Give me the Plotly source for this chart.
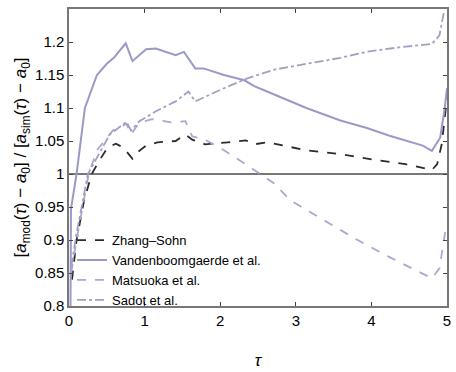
import plotly.graph_objects as go

# Zhang-Sohn
zs_t = [0.04, 0.1, 0.2, 0.3, 0.4, 0.51, 0.62, 0.72, 0.84, 0.93, 1.02, 1.17, 1.41, 1.54, 1.63, 1.8, 2.1, 2.34, 2.45, 2.62, 3.14, 3.59, 4.02, 4.45, 4.8, 4.87, 4.93, 4.98, 5.0]
zs_v = [0.84, 0.9, 0.96, 1.0, 1.02, 1.04, 1.046, 1.04, 1.023, 1.035, 1.043, 1.048, 1.05, 1.06, 1.052, 1.045, 1.048, 1.051, 1.045, 1.048, 1.036, 1.03, 1.022, 1.015, 1.006, 1.015, 1.045, 1.1, 1.115]

# Vandenboomgaerde et al.
vb_t = [0.02, 0.026, 0.1, 0.21, 0.37, 0.5, 0.6, 0.75, 0.84, 1.02, 1.15, 1.41, 1.52, 1.67, 1.78, 2.05, 2.32, 2.45, 2.62, 2.93, 3.14, 3.59, 3.93, 4.24, 4.68, 4.8, 4.91, 4.97, 5.0]
vb_v = [0.8, 0.947, 1.0, 1.1, 1.15, 1.167, 1.177, 1.198, 1.171, 1.189, 1.19, 1.18, 1.185, 1.16, 1.16, 1.15, 1.142, 1.133, 1.125, 1.11, 1.1, 1.081, 1.07, 1.058, 1.043, 1.035, 1.055, 1.1, 1.13]

# Matsuoka et al.
ma_t = [0.03, 0.1, 0.26, 0.37, 0.58, 0.76, 0.82, 0.93, 1.1, 1.36, 1.54, 1.63, 1.8, 2.05, 2.4, 2.71, 2.93, 3.36, 3.8, 4.24, 4.67, 4.8, 4.9, 4.96, 4.99]
ma_v = [0.85, 0.9, 1.0, 1.036, 1.066, 1.076, 1.06, 1.078, 1.083, 1.078, 1.08, 1.057, 1.052, 1.036, 1.01, 0.986, 0.96, 0.931, 0.901, 0.874, 0.849, 0.842, 0.857, 0.897, 0.922]

# Sadot et al.
sa_t = [0.03, 0.1, 0.25, 0.54, 0.76, 0.82, 0.93, 1.15, 1.41, 1.58, 1.67, 1.85, 2.05, 2.36, 2.71, 3.14, 3.59, 3.93, 4.37, 4.8, 4.9, 4.94, 4.96]
sa_v = [0.86, 0.91, 1.0, 1.06, 1.079, 1.066, 1.08, 1.095, 1.11, 1.125, 1.11, 1.12, 1.13, 1.145, 1.158, 1.167, 1.176, 1.185, 1.192, 1.197, 1.21, 1.234, 1.246]

ref_t = [0, 5]
ref_v = [1, 1]

xticks = [0, 1, 2, 3, 4, 5]
yticks = [0.8, 0.85, 0.9, 0.95, 1.0, 1.05, 1.1, 1.15, 1.2]
ytick_text = ["0.8", "0.85", "0.9", "0.95", "1", "1.05", "1.1", "1.15", "1.2"]

fig = go.Figure()
fig.add_trace(go.Scatter(x=ref_t, y=ref_v, mode="lines", line=dict(color="#4a4a4a", width=1.5), showlegend=False, hoverinfo="skip"))
fig.add_trace(go.Scatter(x=zs_t, y=zs_v, mode="lines", name="Zhang\u2013Sohn", line=dict(color="#2b2b2b", width=1.8, dash="dash")))
fig.add_trace(go.Scatter(x=vb_t, y=vb_v, mode="lines", name="Vandenboomgaerde et al.", line=dict(color="#9a9ac6", width=2)))
fig.add_trace(go.Scatter(x=ma_t, y=ma_v, mode="lines", name="Matsuoka et al.", line=dict(color="#a9a9cf", width=1.8, dash="dash")))
fig.add_trace(go.Scatter(x=sa_t, y=sa_v, mode="lines", name="Sadot et al.", line=dict(color="#a0a0c4", width=1.8, dash="dashdot")))

fig.update_layout(
    width=456, height=372,
    margin=dict(l=69, r=5, t=9, b=60),
    paper_bgcolor="white", plot_bgcolor="white",
    font=dict(family="Liberation Sans, Arial, sans-serif", color="black", size=15),
    legend=dict(x=0.008, y=0.272, xanchor="left", yanchor="top", bgcolor="rgba(0,0,0,0)",
                font=dict(size=13), itemwidth=30, tracegroupgap=0),
    xaxis=dict(range=[0, 5], tickvals=xticks, ticks="inside", ticklen=4, mirror="ticks",
               showline=True, linecolor="#777777", linewidth=1.5, showgrid=False, zeroline=False,
               title=dict(text="<i>τ</i>", standoff=26, font=dict(size=17))),
    yaxis=dict(range=[0.8, 1.25], tickvals=yticks, ticktext=ytick_text, ticks="inside", ticklen=4, mirror="ticks",
               showline=True, linecolor="#777777", linewidth=1.5, showgrid=False, zeroline=False,
               title=dict(text="[<i>a</i><sub>mod</sub>(<i>τ</i>) − <i>a</i><sub>0</sub>] / [<i>a</i><sub>sim</sub>(<i>τ</i>) − <i>a</i><sub>0</sub>]",
                          standoff=4, font=dict(size=17))),
)

fig.write_html("out.html")
